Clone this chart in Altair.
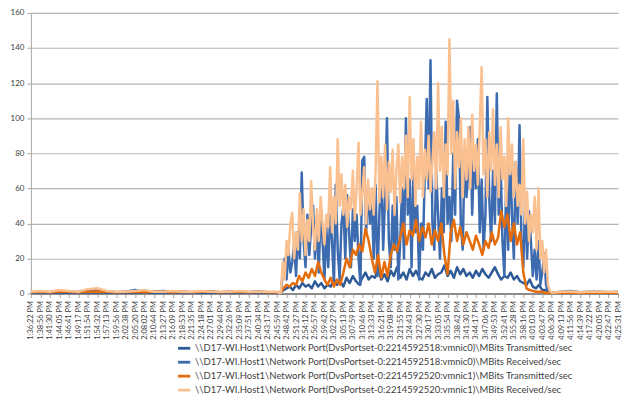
import altair as alt
import pandas as pd

time_labels = [
    "1:36:22 PM", "1:38:56 PM", "1:41:30 PM", "1:44:05 PM", "1:46:41 PM", "1:49:17 PM",
    "1:51:54 PM", "1:54:32 PM", "1:57:13 PM", "1:59:56 PM", "2:02:38 PM", "2:05:20 PM",
    "2:08:02 PM", "2:10:44 PM", "2:13:27 PM", "2:16:09 PM", "2:18:53 PM", "2:21:35 PM",
    "2:24:18 PM", "2:27:01 PM", "2:29:44 PM", "2:32:26 PM", "2:35:09 PM", "2:37:51 PM",
    "2:40:34 PM", "2:43:17 PM", "2:45:59 PM", "2:48:42 PM", "2:51:27 PM", "2:54:12 PM",
    "2:56:57 PM", "2:59:42 PM", "3:02:27 PM", "3:05:13 PM", "3:07:59 PM", "3:10:46 PM",
    "3:13:33 PM", "3:16:21 PM", "3:19:08 PM", "3:21:55 PM", "3:24:43 PM", "3:27:30 PM",
    "3:30:17 PM", "3:33:05 PM", "3:35:54 PM", "3:38:42 PM", "3:41:30 PM", "3:44:17 PM",
    "3:47:06 PM", "3:49:53 PM", "3:52:41 PM", "3:55:28 PM", "3:58:16 PM", "4:01:03 PM",
    "4:03:47 PM", "4:06:30 PM", "4:09:13 PM", "4:11:56 PM", "4:14:39 PM", "4:17:22 PM",
    "4:20:05 PM", "4:22:47 PM", "4:25:31 PM",
]

series_names = [
    r"\\D17-WI.Host1\Network Port(DvsPortset-0:2214592518:vmnic0)\MBits Transmitted/sec",
    r"\\D17-WI.Host1\Network Port(DvsPortset-0:2214592518:vmnic0)\MBits Received/sec",
    r"\\D17-WI.Host1\Network Port(DvsPortset-0:2214592520:vmnic1)\MBits Transmitted/sec",
    r"\\D17-WI.Host1\Network Port(DvsPortset-0:2214592520:vmnic1)\MBits Received/sec",
]
series_colors = ["#2E5A97", "#3D6BB0", "#E46C0A", "#FAC08F"]

# sample positions, in units of the tick-label interval
head_x = list(range(0, 27))
tail_x = list(range(56, 63))
x_third = head_x + [26 + i / 3 for i in range(1, 88)] + tail_x   # transmitted series
x_fifth = head_x + [26 + i / 5 for i in range(1, 146)] + tail_x  # received series

tx0 = [0.4, 0.5, 0.4, 0.6, 0.5, 0.4, 0.6, 0.8, 0.5, 0.4, 0.5, 0.6, 0.4, 0.5, 0.5, 0.4, 0.5, 0.4,
       0.5, 0.5, 0.4, 0.5, 0.5, 0.4, 0.5, 0.4, 0.4,
       0.5, 2, 3, 4, 2, 5, 3, 6, 4, 5, 3, 7, 4, 6, 3,
       5, 4, 8, 5, 7, 4, 9, 6, 10, 7, 5, 9, 12, 8, 10,
       9, 14, 8, 11, 7, 13, 10, 15, 9, 12, 8, 14, 10, 13, 9,
       8, 12, 10, 14, 9, 11, 12, 16, 10, 13, 9, 15, 11, 14, 10,
       12, 9, 13, 10, 14, 11, 9, 12, 15, 11, 8, 10, 9, 12, 8,
       10, 7, 6, 5, 8, 4, 3, 5, 2, 2, 1, 0.5,
       0.5, 0.6, 0.4, 0.5, 0.6, 0.5, 0.5]

rx0 = [0.5, 1, 0.8, 1.8, 0.8, 1, 1.5, 2.5, 1.2, 0.8, 1, 2, 0.8, 1, 1.5, 0.8, 1, 0.8,
       1, 1.2, 0.8, 1, 1, 0.8, 1.2, 0.8, 0.8,
       0.5, 0.5, 12, 20, 8,
       25, 12, 18, 28, 10,
       35, 20, 69, 30, 15,
       45, 22, 38, 50, 20,
       42, 12, 48, 30, 8,
       38, 15, 45, 30, 5,
       62, 25, 8, 40, 50,
       20, 56, 35, 15, 48,
       30, 45, 20, 5, 76,
       78, 35, 60, 40, 55,
       20, 62, 10, 45, 72,
       25, 55, 100, 30, 15,
       50, 25, 55, 8, 30,
       60, 20, 100, 45, 65,
       15, 75, 35, 50, 8,
       40, 25, 70, 111, 60,
       133, 40, 25, 70, 45,
       20, 60, 35, 98, 40,
       55, 30, 80, 45, 110,
       100, 40, 25, 80, 55,
       70, 95, 45, 82, 60,
       88, 35, 65, 25, 45,
       112, 55, 30, 70, 40,
       114, 45, 75, 30, 10,
       65, 25, 80, 45, 20,
       75, 40, 96, 30, 15,
       55, 20, 47, 30, 10,
       25, 8, 30, 5, 12,
       23, 5, 1, 0.5, 0.5,
       1, 1.5, 0.8, 1, 1.2, 0.8, 1]

tx1 = [0.8, 1, 0.8, 1, 1, 0.8, 1, 1.2, 1, 0.8, 0.9, 1, 0.8, 1, 1, 0.8, 1, 0.8,
       1, 1, 0.8, 0.9, 1, 0.8, 1, 0.8, 0.8,
       0.5, 3, 5, 4, 6, 5, 10, 7, 12, 9, 14, 10, 18, 12, 8,
       5, 9, 4, 8, 5, 12, 20, 15, 25, 22, 28, 24, 37, 30, 20,
       12, 22, 9, 18, 10, 22, 28, 24, 32, 40, 28, 36, 33, 42, 30,
       38, 32, 40, 28, 36, 30, 40, 22, 11, 35, 42, 30, 38, 28, 35,
       30, 25, 33, 28, 22, 30, 26, 35, 28, 32, 47, 38, 45, 30, 40,
       28, 35, 12, 3, 2, 1.5, 1, 1, 1, 0.5, 0.5, 0.5,
       0.5, 0.6, 0.5, 0.5, 0.6, 0.5, 0.5]

rx1 = [1, 1.5, 1, 2, 1.5, 1, 2.5, 3, 1.5, 1, 1, 1.5, 2, 1, 1, 1.5, 1, 1,
       1.5, 1, 1, 1, 1.5, 1, 1, 1, 1,
       0.5, 0.5, 18, 8, 30,
       22, 40, 46, 20, 35,
       25, 57, 30, 48, 22,
       42, 30, 64, 38, 25,
       48, 30, 55, 40, 28,
       45, 38, 72, 35, 55,
       40, 88, 50, 68, 45,
       62, 38, 55, 48, 70,
       42, 60, 86, 45, 58,
       72, 40, 65, 48, 60,
       45, 70, 121, 52, 78,
       55, 85, 48, 75, 58,
       82, 45, 70, 85, 52,
       78, 60, 90, 55, 112,
       65, 88, 50, 78, 60,
       98, 55, 82, 65, 90,
       58, 75, 92, 60, 120,
       70, 95, 55, 85, 68,
       145, 80, 110, 60, 92,
       72, 100, 55, 88, 65,
       95, 60, 102, 70, 85,
       62, 95, 129, 68, 88,
       55, 92, 70, 105, 62,
       85, 55, 95, 65, 78,
       50, 100, 68, 85, 55,
       75, 50, 62, 45, 88,
       40, 58, 30, 45, 35,
       55, 25, 60, 20, 30,
       12, 25, 5, 1.5, 0.5,
       1, 1.2, 0.8, 1, 1.2, 1, 1]

rows = []
for name, xs, vals in zip(series_names, [x_third, x_fifth, x_third, x_fifth], [tx0, rx0, tx1, rx1]):
    for t, v in zip(xs, vals):
        rows.append({"t": t, "v": v, "series": name})
df = pd.DataFrame(rows)

label_expr = "[" + ",".join("'" + s + "'" for s in time_labels) + "][round(datum.value)]"

FONT = "Lato"
LEGEND_FONT_SIZE = 9.5

color = alt.Color(
    "series:N",
    scale=alt.Scale(domain=series_names, range=series_colors),
    legend=alt.Legend(
        title=None, orient="none", legendX=146, legendY=329, direction="vertical",
        symbolType="stroke", symbolSize=150, symbolStrokeWidth=2.8,
        labelFontSize=LEGEND_FONT_SIZE, labelFont=FONT, labelColor="#404040", labelLimit=600,
        rowPadding=0, labelOffset=3,
    ),
)

x = alt.X(
    "t:Q",
    scale=alt.Scale(domain=[0, len(time_labels) - 1], nice=False, zero=False),
    axis=alt.Axis(
        title=None, values=list(range(len(time_labels))), labelExpr=label_expr,
        labelAngle=270, labelFontSize=7.5, labelFont=FONT, labelColor="#404040",
        grid=False, tickSize=4, tickColor="#A6A6A6", domainColor="#8C8C8C",
        domainWidth=2, labelPadding=3, labelOverlap=False, labelFlush=False,
    ),
)
y = alt.Y(
    "v:Q",
    scale=alt.Scale(domain=[0, 160], nice=False),
    axis=alt.Axis(
        title=None, values=[0, 20, 40, 60, 80, 100, 120, 140, 160],
        labelFontSize=8, labelFont=FONT, labelColor="#404040",
        gridColor="#B4B4B4", gridWidth=1.2, tickSize=4, tickColor="#A6A6A6",
        domainColor="#A6A6A6", labelPadding=3,
    ),
)

layers = [
    alt.Chart(df).transform_filter(alt.datum.series == name)
    .mark_line(strokeWidth=2.5, strokeJoin="round")
    .encode(x=x, y=y, color=color)
    for name in series_names
]

chart = (
    alt.layer(*layers)
    .properties(width=590, height=282, padding={"left": 2, "top": 0, "right": 0, "bottom": 0})
    .configure_view(stroke=None)
    .configure_legend(labelFontSize=LEGEND_FONT_SIZE, labelFont=FONT)
)

chart.save("out.html", embed_options={"renderer": "svg", "actions": False})
